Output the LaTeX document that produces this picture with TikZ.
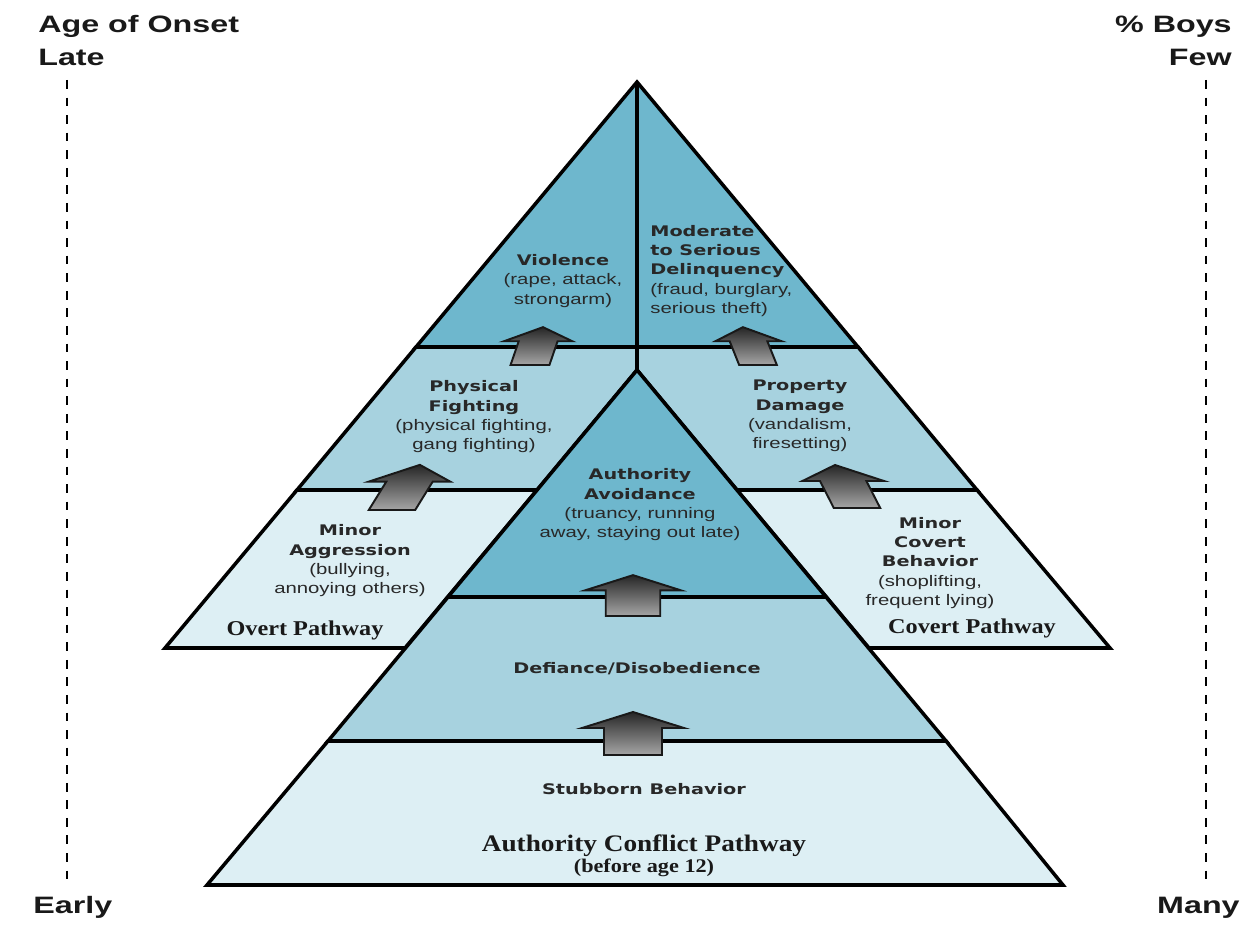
\documentclass[tikz,border=0pt]{standalone}
\usepackage{fontspec}
\newfontfamily\axisfont[FakeStretch=1.36]{Liberation Sans}
\newfontfamily\labelfont[FakeStretch=1.32]{DejaVu Sans}
\newfontfamily\notefont[FakeStretch=1.33]{Liberation Sans}
\newfontfamily\pathfont[FakeStretch=1.15]{Liberation Serif}
\definecolor{tierdark}{RGB}{110,183,205}
\definecolor{tiermid}{RGB}{167,210,223}
\definecolor{tierlight}{RGB}{221,239,244}
\definecolor{inkgray}{RGB}{40,40,40}

\newcommand{\hd}[1]{{\labelfont\bfseries #1}}
\newcommand{\nt}[1]{{\notefont\fontsize{8.7}{11}\selectfont #1}}
% bottom centre x, y; xscale; yscale; slant
\newcommand{\stagearrow}[5]{%
  \shadedraw[steparrow, shift={(#1,#2)}, xscale=#3, yscale=#4, xslant=#5]
    (-29,0) -- (29,0) -- (29,-27) -- (51,-27) -- (0,-43) -- (-51,-27) -- (-29,-27) -- cycle;}

\begin{document}
\begin{tikzpicture}[x=0.02cm, y=-0.02cm]
      \tikzset{tier/.style={draw=black, line width=2pt, line join=miter},
        steparrow/.style={draw=black!90, line width=1.1pt, top color=black!85, bottom color=black!35},
        scale line/.style={dashed, line width=1.4pt, dash pattern=on 5pt off 5pt},
        stagelabel/.style={align=center, text=inkgray, inner sep=0pt, font=\fontsize{8.3}{11}\selectfont},
        pathlabel/.style={text=black!90, inner sep=0pt, font=\pathfont\bfseries\fontsize{12}{12}\selectfont},
        axislabel/.style={text=black!90, inner sep=0pt, font=\axisfont\bfseries\fontsize{13.5}{13.5}\selectfont}}
      \useasboundingbox (0,0) rectangle (1244,932);

      \coordinate (apex) at (637,82);
      \coordinate (inner) at (637,370);

      % overt and covert pathways
      \filldraw[tier, fill=tierdark] (apex) -- (416,347) -- (858,347) -- cycle;
      \filldraw[tier, fill=tiermid] (416,347) -- (637,347) -- (inner) -- (537,490) -- (297,490) -- cycle;
      \filldraw[tier, fill=tiermid] (637,347) -- (858,347) -- (977,490) -- (737,490) -- (inner) -- cycle;
      \filldraw[tier, fill=tierlight] (297,490) -- (537,490) -- (405,648) -- (165,648) -- cycle;
      \filldraw[tier, fill=tierlight] (737,490) -- (977,490) -- (1110,648) -- (869,648) -- cycle;
      \draw[line width=2.8pt] (apex) -- (inner);

      % authority conflict pathway
      \filldraw[tier, fill=tierdark] (inner) -- (448,597) -- (826,597) -- cycle;
      \filldraw[tier, fill=tiermid] (448,597) -- (826,597) -- (946,741) -- (328,741) -- cycle;
      \filldraw[tier, fill=tierlight] (328,741) -- (946,741) -- (1063,885) -- (207,885) -- cycle;

      \stagearrow{530}{365}{0.67}{0.88}{0.45}
      \stagearrow{758}{365}{0.65}{0.88}{-0.54}
      \stagearrow{392}{510}{0.8}{1.05}{0.81}
      \stagearrow{857}{508}{0.8}{1}{-0.64}
      \stagearrow{633}{616}{0.94}{0.95}{0}
      \stagearrow{633}{755}{1}{1}{0}

      \node[stagelabel] (violence) at (563,281)
        {\hd{Violence}\\\nt{(rape, attack,}\\\nt{strongarm)}};
      \node[stagelabel, align=left, anchor=west] (delinquency) at (650,271)
        {\hd{Moderate}\\\hd{to Serious}\\\hd{Delinquency}\\\nt{(fraud, burglary,}\\\nt{serious theft)}};
      \node[stagelabel] (fighting) at (474,417)
        {\hd{Physical}\\\hd{Fighting}\\\nt{(physical fighting,}\\\nt{gang fighting)}};
      \node[stagelabel] (damage) at (800,416)
        {\hd{Property}\\\hd{Damage}\\\nt{(vandalism,}\\\nt{firesetting)}};
      \node[stagelabel] (avoidance) at (640,505)
        {\hd{Authority}\\\hd{Avoidance}\\\nt{(truancy, running}\\\nt{away, staying out late)}};
      \node[stagelabel] (aggression) at (350,561)
        {\hd{Minor}\\\hd{Aggression}\\\nt{(bullying,}\\\nt{annoying others)}};
      \node[stagelabel] (covertmin) at (930,563)
        {\hd{Minor}\\\hd{Covert}\\\hd{Behavior}\\\nt{(shoplifting,}\\\nt{frequent lying)}};
      \node[stagelabel] (defiance) at (637,669) {\hd{Defiance/Disobedience}};
      \node[stagelabel] (stubborn) at (644,789) {\hd{Stubborn Behavior}};

      \node[pathlabel] (overt) at (305,630) {Overt Pathway};
      \node[pathlabel] (covert) at (972,628) {Covert Pathway};
      \node[pathlabel, align=center] (conflict) at (644,856)
        {{\fontsize{13.5}{10.8}\selectfont Authority Conflict Pathway}\\{\fontsize{11}{10.8}\selectfont (before age 12)}};

      \node[axislabel, anchor=base west] (onset) at (38,33) {Age of Onset};
      \node[axislabel, anchor=base west] (late) at (38,66) {Late};
      \node[axislabel, anchor=base west] (early) at (33,913) {Early};
      \node[axislabel, anchor=base east] (boys) at (1232,33) {\% Boys};
      \node[axislabel, anchor=base east] (few) at (1232,66) {Few};
      \node[axislabel, anchor=base east] (many) at (1240,913) {Many};

      \coordinate (lefttop) at (67,80);
      \coordinate (leftbot) at (67,883);
      \coordinate (righttop) at (1206,80);
      \coordinate (rightbot) at (1206,883);
      \draw[scale line] (lefttop) -- (leftbot);
      \draw[scale line] (righttop) -- (rightbot);
    \end{tikzpicture}
\end{document}
